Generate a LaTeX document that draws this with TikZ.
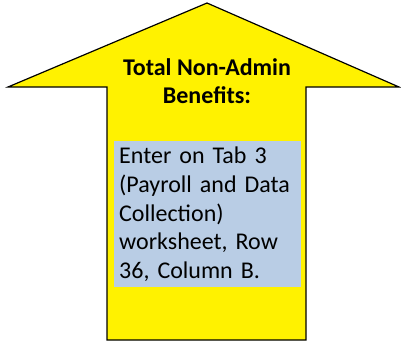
\documentclass[tikz,border=0pt]{standalone}
\usepackage{fontspec}
\setmainfont{Carlito}
\frenchspacing
\definecolor{notebg}{HTML}{B9CDE5}
\newcommand\notefont{\fontsize{24}{28.75}\selectfont\spaceskip=8pt\relax}
\begin{document}
\begin{tikzpicture}[x=1pt,y=-1pt,line join=miter,font=\fontsize{24}{28.75}\selectfont]
			\useasboundingbox (0,0) rectangle (401,343);
			\draw[fill=yellow,line width=1.2pt]
				(207,3) -- (399,87) -- (306,87) -- (306,340) -- (107,340) -- (107,87) -- (8,87) -- cycle;
			\node[align=center,font=\fontsize{24}{28}\selectfont\bfseries,anchor=base] (title) at (207,103)
				{Total Non-Admin\\Benefits:};
			\node[fill=notebg,anchor=north west,text width=177pt,minimum height=146pt,inner xsep=5pt,align=flush left,font=\notefont] (note) at (114,141)
				{Enter on Tab 3\\(Payroll and Data\\Collection)\\worksheet, Row\\36, Column B.};
		\end{tikzpicture}
\end{document}
